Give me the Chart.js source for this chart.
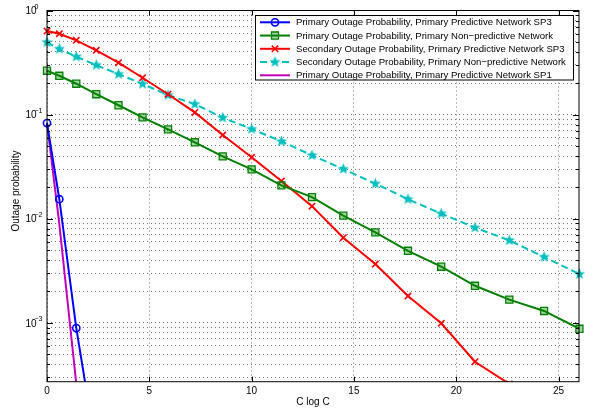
<!DOCTYPE html>
<html>
<head>
<meta charset="utf-8">
<script src="https://cdn.jsdelivr.net/npm/chart.js@4/dist/chart.umd.min.js"></script>
<style>
  body { margin: 0; background: #fff; }
  canvas { display: block; }
</style>
</head>
<body>
<canvas id="outage" width="594" height="409"></canvas>
<script>
// x = C log10(C) for C = 1..20
const cLogC = [0, 0.602, 1.431, 2.408, 3.495, 4.669, 5.916, 7.225, 8.588, 10,
    11.455, 12.950, 14.481, 16.047, 17.641, 19.266, 20.917, 22.594, 24.295, 26.021];

const primPredSP3 = [0.083, 0.0154, 0.00089, 0.000059];
const primNonPred = [0.264, 0.236, 0.198, 0.157, 0.123, 0.0942, 0.0722, 0.0542, 0.0397, 0.0298,
    0.0209, 0.0161, 0.0107, 0.0074, 0.00492, 0.00346, 0.00227, 0.00167, 0.0013, 0.000877];
const secPredSP3 = [0.635, 0.598, 0.517, 0.415, 0.315, 0.226, 0.157, 0.105, 0.0637, 0.0389,
    0.0230, 0.0132, 0.00657, 0.00367, 0.00181, 0.000989, 0.000423, 0.000259];
const secNonPred = [0.495, 0.427, 0.360, 0.299, 0.245, 0.197, 0.154, 0.126, 0.0934, 0.0727,
    0.0554, 0.0406, 0.0300, 0.0217, 0.0154, 0.0112, 0.0082, 0.0062, 0.00429, 0.00294];
const primPredSP1 = [0.083, 0.0089, 0.00026];

const seriesNames = [
    'Primary Outage Probability, Primary Predictive Network SP3',
    'Primary Outage Probability, Primary Non\u2212predictive Network',
    'Secondary Outage Probability, Primary Predictive Network SP3',
    'Secondary Outage Probability, Primary Non\u2212predictive Network',
    'Primary Outage Probability, Primary Predictive Network SP1'
];

const xTicks = [0, 5, 10, 15, 20, 25];
const yMajorTicks = [1, 0.1, 0.01, 0.001];
const yTickExponents = ['0', '\u22121', '\u22122', '\u22123'];
const xTitle = 'C log C';
const yTitle = 'Outage probability';

const FONT = '"Liberation Sans", Arial, sans-serif';

// filled five-point star used as marker
const starImg = document.createElement('canvas');
starImg.width = 13;
starImg.height = 13;
(() => {
    const c = starImg.getContext('2d');
    c.fillStyle = '#00bfbf';
    c.beginPath();
    for (let i = 0; i < 10; i++) {
        const r = i % 2 === 0 ? 6 : 2.5;
        const a = -Math.PI / 2 + i * Math.PI / 5;
        const px = 6.5 + r * Math.cos(a);
        const py = 6.5 + r * Math.sin(a);
        if (i === 0) c.moveTo(px, py); else c.lineTo(px, py);
    }
    c.closePath();
    c.fill();
})();

const pts = (ys) => ys.map((y, i) => ({ x: cLogC[i], y: y }));
const clipBox = { left: 10, top: 10, right: 10, bottom: 0 };

const datasets = [
    { label: seriesNames[0], data: pts(primPredSP3), borderColor: '#0000ff', borderWidth: 2,
      pointStyle: 'circle', pointRadius: 3.6, pointBorderWidth: 1.6, pointBorderColor: '#0000ff',
      pointBackgroundColor: 'rgba(0,0,0,0)' },
    { label: seriesNames[1], data: pts(primNonPred), borderColor: '#008000', borderWidth: 2,
      pointStyle: 'rect', pointRadius: 5, pointBorderWidth: 1.3, pointBorderColor: '#008000',
      pointBackgroundColor: 'rgba(0,128,0,0.35)' },
    { label: seriesNames[2], data: pts(secPredSP3), borderColor: '#ff0000', borderWidth: 2,
      pointStyle: 'crossRot', pointRadius: 4.5, pointBorderWidth: 1.6, pointBorderColor: '#ff0000' },
    { label: seriesNames[3], data: pts(secNonPred), borderColor: '#00bfbf', borderWidth: 2,
      borderDash: [7, 4], pointStyle: starImg, pointRadius: 6 },
    { label: seriesNames[4], data: pts(primPredSP1), borderColor: '#bf00bf', borderWidth: 2,
      pointRadius: 0 }
];
datasets.forEach(d => { d.fill = false; d.tension = 0; d.clip = clipBox; d.pointHoverRadius = d.pointRadius; });

const drawLegendMarker = (ctx, d, cx, cy) => {
    if (!(d.pointRadius > 0)) return;
    if (d.pointStyle === starImg) {
        ctx.drawImage(starImg, cx - 6.5, cy - 6.5);
        return;
    }
    ctx.save();
    ctx.strokeStyle = d.pointBorderColor;
    ctx.fillStyle = d.pointBackgroundColor || 'rgba(0,0,0,0)';
    ctx.lineWidth = d.pointBorderWidth;
    ctx.beginPath();
    if (d.pointStyle === 'circle') {
        ctx.arc(cx, cy, d.pointRadius, 0, Math.PI * 2);
        ctx.fill(); ctx.stroke();
    } else if (d.pointStyle === 'rect') {
        const s = d.pointRadius * Math.SQRT1_2;
        ctx.rect(cx - s, cy - s, 2 * s, 2 * s);
        ctx.fill(); ctx.stroke();
    } else {
        const o = d.pointRadius * Math.SQRT1_2;
        ctx.moveTo(cx - o, cy - o); ctx.lineTo(cx + o, cy + o);
        ctx.moveTo(cx - o, cy + o); ctx.lineTo(cx + o, cy - o);
        ctx.stroke();
    }
    ctx.restore();
};

const matlabAxes = {
    id: 'matlabAxes',
    afterDraw(chart) {
        const { ctx, chartArea: a, scales: { x, y } } = chart;
        ctx.save();
        // box
        ctx.strokeStyle = '#000';
        ctx.lineWidth = 1;
        ctx.strokeRect(a.left, a.top, a.right - a.left, a.bottom - a.top);
        // inward ticks
        ctx.beginPath();
        xTicks.forEach(v => {
            const px = Math.round(x.getPixelForValue(v)) + 0.5;
            ctx.moveTo(px, a.bottom); ctx.lineTo(px, a.bottom - 5);
            ctx.moveTo(px, a.top); ctx.lineTo(px, a.top + 5);
        });
        y.ticks.forEach(t => {
            const py = Math.round(y.getPixelForValue(t.value)) + 0.5;
            const len = t.major ? 6 : 3;
            ctx.moveTo(a.left, py); ctx.lineTo(a.left + len, py);
            ctx.moveTo(a.right, py); ctx.lineTo(a.right - len, py);
        });
        ctx.stroke();

        // tick labels
        ctx.fillStyle = '#000';
        ctx.font = '10px ' + FONT;
        ctx.textAlign = 'center';
        ctx.textBaseline = 'middle';
        xTicks.forEach(v => ctx.fillText(String(v), x.getPixelForValue(v), 391));
        yMajorTicks.forEach((v, i) => {
            const py = y.getPixelForValue(v);
            ctx.textAlign = 'left';
            ctx.font = '10px ' + FONT;
            ctx.fillText('10', 25.5, py + 1);
            ctx.font = '7px ' + FONT;
            ctx.fillText(yTickExponents[i], 34.5, py - 3.5);
        });

        // axis titles
        ctx.font = '10px ' + FONT;
        ctx.textAlign = 'center';
        ctx.fillText(xTitle, (a.left + a.right) / 2, 402);
        ctx.translate(16.5, 191);
        ctx.rotate(-Math.PI / 2);
        ctx.fillText(yTitle, 0, 0);
        ctx.setTransform(1, 0, 0, 1, 0, 0);

        // legend
        const L = 255, R = 573, T = 15, B = 79.5;
        ctx.fillStyle = '#fff';
        ctx.fillRect(L, T, R - L, B - T);
        ctx.strokeStyle = '#000';
        ctx.lineWidth = 1;
        ctx.strokeRect(Math.round(L) + 0.5, Math.round(T) + 0.5, R - L, B - T);
        chart.data.datasets.forEach((d, i) => {
            const ry = 22.3 + i * 13.25;
            ctx.save();
            ctx.strokeStyle = d.borderColor;
            ctx.lineWidth = d.borderWidth;
            ctx.setLineDash(d.borderDash || []);
            ctx.beginPath();
            ctx.moveTo(260, ry); ctx.lineTo(290, ry);
            ctx.stroke();
            ctx.restore();
            drawLegendMarker(ctx, d, 275, ry);
            ctx.fillStyle = '#000';
            ctx.font = '9.6px ' + FONT;
            ctx.textAlign = 'left';
            ctx.textBaseline = 'middle';
            ctx.fillText(d.label, 296, ry + 0.5);
        });
        ctx.restore();
    }
};

new Chart(document.getElementById('outage').getContext('2d'), {
    type: 'line',
    data: { datasets: datasets },
    options: {
        responsive: false,
        animation: false,
        layout: { padding: { left: 0, top: 10.5, right: 15, bottom: 0 } },
        plugins: { legend: { display: false }, tooltip: { enabled: false } },
        scales: {
            x: {
                type: 'linear', min: 0, max: 26,
                afterBuildTicks: (s) => { s.ticks = xTicks.map(v => ({ value: v })); },
                afterFit: (s) => { s.height = 27.3; },
                ticks: { display: false },
                grid: { color: 'rgba(0,0,0,0.55)', lineWidth: 1, drawTicks: false },
                border: { display: false, dash: [1, 3] }
            },
            y: {
                type: 'logarithmic', min: 2.72e-4, max: 1,
                afterBuildTicks: (s) => {
                    const t = [];
                    for (let e = -4; e <= 0; e++) {
                        for (let m = 1; m <= 9; m++) {
                            const v = m * Math.pow(10, e);
                            if (v >= s.min * 0.999 && v <= s.max * 1.0001) t.push({ value: v, major: m === 1 });
                        }
                    }
                    s.ticks = t;
                },
                afterFit: (s) => { s.width = 47; },
                ticks: { display: false },
                grid: { color: 'rgba(0,0,0,0.55)', lineWidth: 1, drawTicks: false },
                border: { display: false, dash: [1, 3] }
            }
        }
    },
    plugins: [matlabAxes]
});
</script>
</body>
</html>
